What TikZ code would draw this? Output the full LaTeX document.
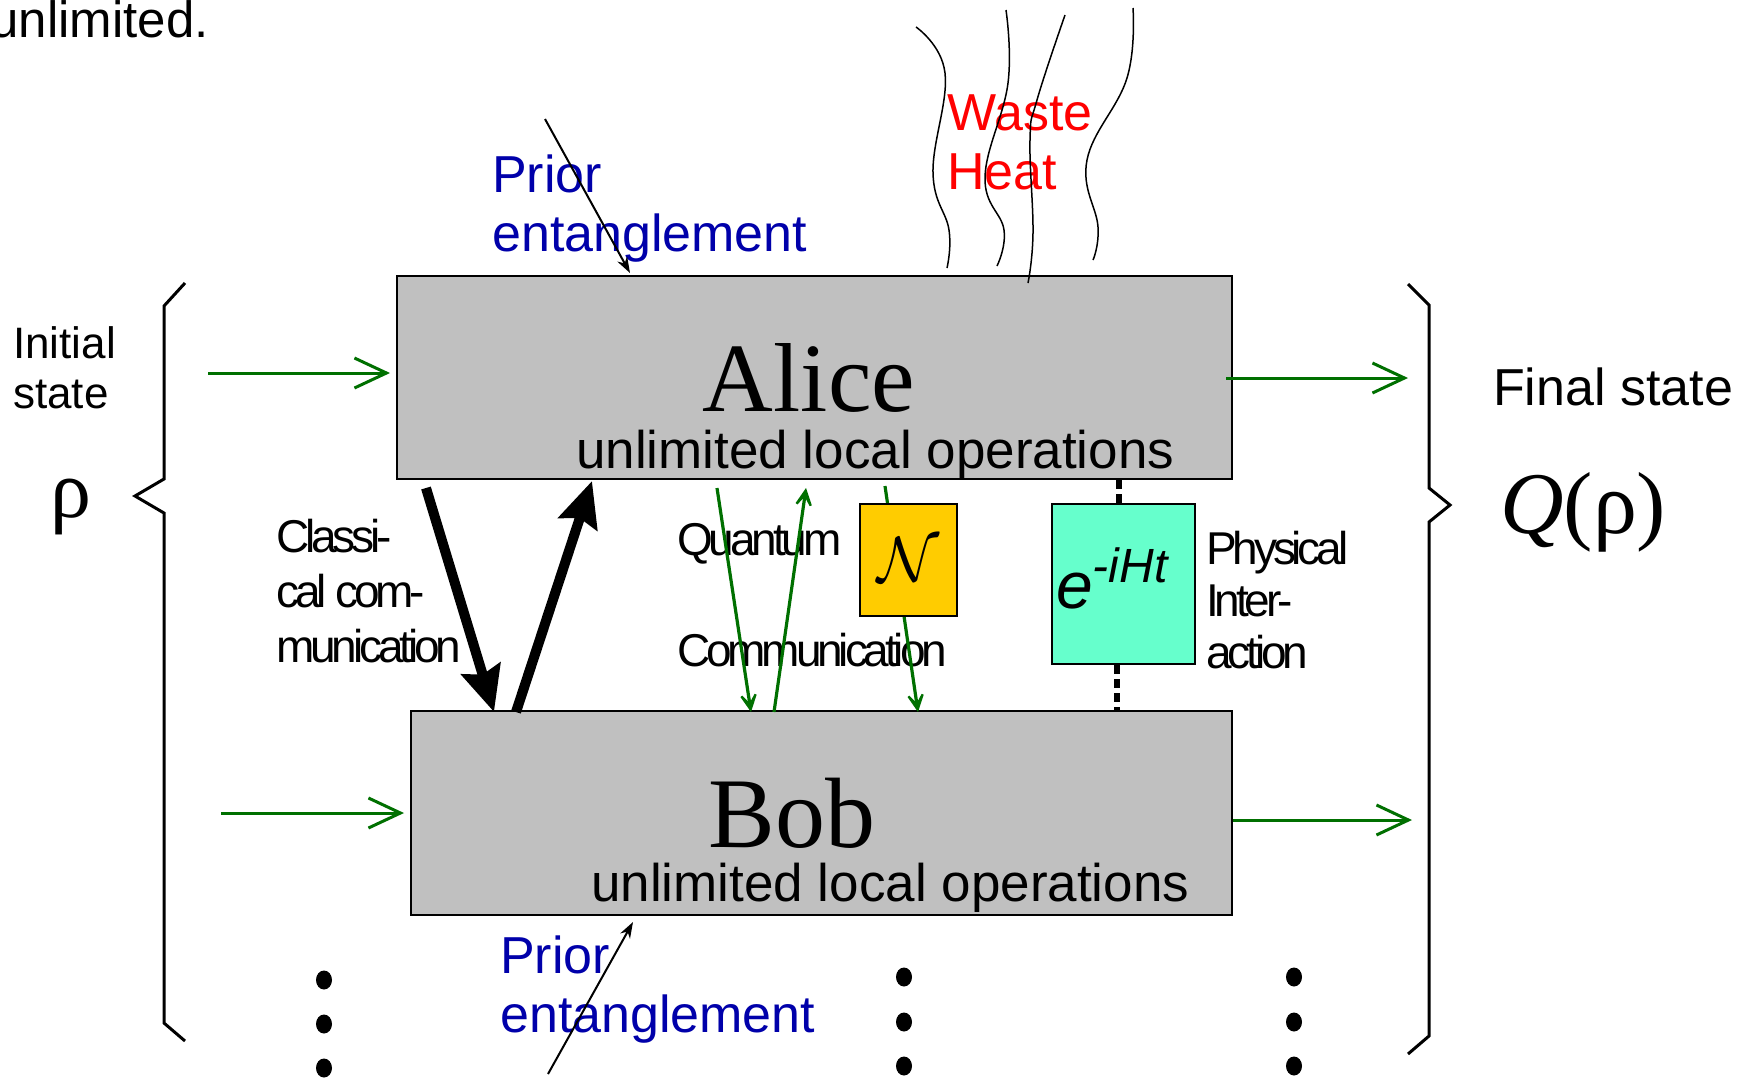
\documentclass[tikz,border=0pt]{standalone}
\usepackage{fontspec}
\usepackage{graphicx}
\setmainfont{Liberation Serif}
\setsansfont{Liberation Sans}
\newfontfamily\arial{Liberation Sans}
\newfontfamily\arialtight[LetterSpace=-9]{Liberation Sans}
\newfontfamily\tnr{Liberation Serif}
\usetikzlibrary{arrows.meta,calc,shapes.geometric}
\definecolor{boxgray}{RGB}{192,192,192}
\definecolor{qgreen}{RGB}{0,112,0}
\definecolor{pblue}{RGB}{0,0,170}
\definecolor{ngold}{RGB}{255,204,0}
\definecolor{aquabox}{RGB}{102,255,204}
\tikzset{
  gbox/.style={draw=black, line width=2pt, fill=boxgray, inner sep=0pt},
  txt/.style={inner sep=0pt, anchor=base west},
  lbl/.style={txt, font=\fontsize{52}{59}\selectfont\arial},
  tight/.style={txt, font=\fontsize{46}{48}\selectfont\arialtight},
  ioarrow/.style={qgreen, line width=3pt, -{Straight Barb[length=32pt,width=30pt]}},
  qarrow/.style={qgreen, line width=3.2pt, -{Stealth[length=28pt,width=28pt,inset=19pt]}},
  carrow/.style={black, line width=10pt, -{Stealth[length=45pt,width=40pt,inset=6pt]}},
  parrow/.style={black, line width=2pt, -{Stealth[length=16pt,width=11pt,inset=5pt]}},
  heat/.style={black, line width=1.5pt},
  brace/.style={black, line width=3pt, line join=miter},
  dotline/.style={black, line width=6pt, dash pattern=on 9pt off 5pt},
  vdot/.style={fill=black, draw=none, ellipse, minimum width=16pt, minimum height=19pt, inner sep=0pt}
}
\begin{document}
\begin{tikzpicture}[x=1pt,y=-1pt]
\useasboundingbox[fill=white] (0,0) rectangle (1740,1080);

% top-left fragment
\node[txt, anchor=base east, font=\fontsize{51}{51}\selectfont\arial] (frag) at (209,37) {unlimited.};

% boxes
\node[gbox, minimum width=835pt, minimum height=203pt] (alice) at (814.5,377.5) {};
\node[gbox, minimum width=821pt, minimum height=204pt] (bob) at (821.5,813) {};

\node[txt, anchor=base, font=\fontsize{98}{98}\selectfont\tnr] (alicename) at (809,411) {Alice};
\node[lbl, font=\fontsize{53}{53}\selectfont\arial] (aliceops) at (576,468) {unlimited local operations};
\node[txt, anchor=base, font=\fontsize{100}{100}\selectfont\tnr] (bobname) at (792,847) {Bob};
\node[lbl, font=\fontsize{53}{53}\selectfont\arial] (bobops) at (591,901) {unlimited local operations};

% braces
\draw[brace] (185,283) -- (164,306) -- (164,479) -- (135,496) -- (164,513) -- (164,1023) -- (185,1041);
\draw[brace] (1408,284) -- (1429,305) -- (1429,488) -- (1450,505) -- (1429,522) -- (1429,1036) -- (1408,1054);

% initial / final state
\node[txt, font=\fontsize{44}{44}\selectfont\arial] (init1) at (13,358) {Initial};
\node[txt, font=\fontsize{44}{44}\selectfont\arial] (init2) at (13,408) {state};
\node[txt, font=\fontsize{82}{82}\selectfont\tnr] (rho) at (50,517) {ρ};
\node[txt, font=\fontsize{52}{52}\selectfont\arial] (fin) at (1493,405) {Final state};
\node[txt, font=\fontsize{88}{88}\selectfont\tnr] (qrho) at (1500,533) {\itshape Q\upshape(ρ)};

% input / output arrows
\coordinate (inA) at (208,373);
\coordinate (inB) at (221,813);
\coordinate (outA) at (1408,378);
\coordinate (outB) at (1412,820);
\draw[ioarrow, shorten >=6pt] (inA) -- (inA -| alice.west);
\draw[ioarrow, shorten >=6pt] (inB) -- (inB -| bob.west);
\draw[ioarrow] ($(outA -| alice.east)+(-7,0)$) -- (outA);
\draw[ioarrow] (outB -| bob.east) -- (outB);

% prior entanglement
\node[lbl, text=pblue] (pa1) at (492,192) {Prior};
\node[lbl, text=pblue] (pa2) at (492,251) {entanglement};
\node[lbl, text=pblue] (pb1) at (500,973) {Prior};
\node[lbl, text=pblue] (pb2) at (500,1032) {entanglement};
\coordinate (pAstart) at (545,119);
\coordinate (pBstart) at (548,1074);
\draw[parrow] (pAstart) -- ($(alice.north west)+(234,-2)$);
\draw[parrow] (pBstart) -- ($(bob.south west)+(223,6)$);

% waste heat
\node[lbl, text=red] (w1) at (947,130) {Waste};
\node[lbl, text=red] (w2) at (947,189) {Heat};
\draw[heat] plot[smooth, tension=0.7] coordinates {(916,27) (945,73) (933,173) (949,230) (947,268)};
\draw[heat] plot[smooth, tension=0.7] coordinates {(1006,10) (1008,83) (985,177) (1004,230) (997,266)};
\draw[heat] plot[smooth, tension=0.7] coordinates {(1065,15) (1037,100) (1030,140) (1033,233) (1028,283)};
\draw[heat] plot[smooth, tension=0.7] coordinates {(1133,8) (1127,78) (1087,160) (1098,227) (1093,260)};

% classical communication
\draw[carrow] ($(alice.south west)+(30,8)$) -- ($(bob.north west)+(84,2)$);
\draw[carrow] ($(bob.north west)+(106,2)$) -- ($(alice.south west)+(196,1)$);
\node[tight] (cl1) at (276,552) {Classi-};
\node[tight] (cl2) at (276,607) {cal com-};
\node[tight] (cl3) at (276,662) {munication};

% quantum communication
\node[tight] (q1) at (677,555) {Quantum};
\node[tight] (q2) at (677,666) {Communication};
\draw[qarrow] ($(alice.south west)+(321,8)$) -- ($(bob.north west)+(341,2)$);
\draw[qarrow] ($(bob.north west)+(364,2)$) -- ($(alice.south west)+(410,8)$);
\draw[qarrow] ($(alice.south west)+(489,6)$) -- ($(bob.north west)+(508,2)$);
\node[draw=black, line width=2pt, fill=ngold, minimum width=97pt, minimum height=112pt, inner sep=0pt] (chan) at (908.5,560) {\scalebox{6.4}{$\mathcal{N}$}};

% physical interaction
\node[draw=black, line width=2pt, fill=aquabox, minimum width=143pt, minimum height=160pt, inner sep=0pt] (unit) at (1123.5,584) {};
\node[txt, font=\fontsize{66}{66}\selectfont\arial\itshape] (eexp) at (1056,608) {e\raisebox{26pt}{\fontsize{48}{48}\selectfont -iHt}};
\draw[dotline] ($(alice.south -| unit.north)+(-5,0)$) -- ($(unit.north)+(-5,0)$);
\draw[dotline] ($(unit.south)+(-7,0)$) -- ($(bob.north -| unit.south)+(-7,0)$);
\node[tight] (ph1) at (1206,564) {Physical};
\node[tight] (ph2) at (1206,616) {Inter-};
\node[tight] (ph3) at (1206,668) {action};

% vertical ellipses
\node[vdot] (d11) at (324,980) {};
\node[vdot] (d12) at (324,1024) {};
\node[vdot] (d13) at (324,1068) {};
\node[vdot] (d21) at (904,977) {};
\node[vdot] (d22) at (904,1022) {};
\node[vdot] (d23) at (904,1066) {};
\node[vdot] (d31) at (1294,977) {};
\node[vdot] (d32) at (1294,1022) {};
\node[vdot] (d33) at (1294,1066) {};
\end{tikzpicture}
\end{document}
